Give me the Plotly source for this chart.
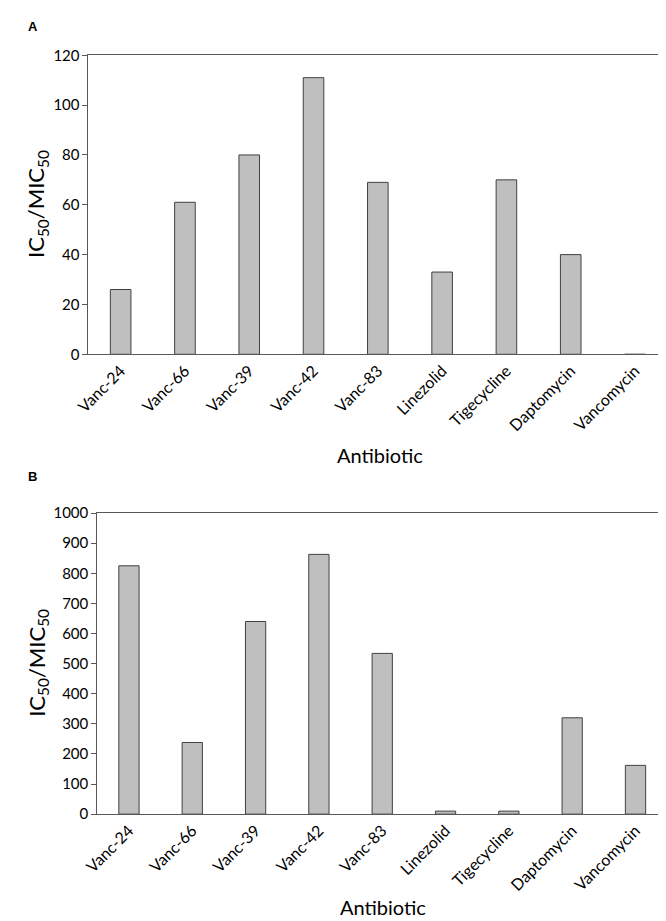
import plotly.graph_objects as go

categories = ["Vanc-24", "Vanc-66", "Vanc-39", "Vanc-42", "Vanc-83",
              "Linezolid", "Tigecycline", "Daptomycin", "Vancomycin"]
values_a = [26, 61, 80, 111, 69, 33, 70, 40, 0]
values_b = [825, 238, 640, 863, 534, 10, 10, 320, 162]

W, H = 666, 921
FONT = "Lato"
AXC = "#595959"

fig = go.Figure()
fig.add_trace(go.Bar(x=categories, y=values_a, xaxis="x", yaxis="y",
                     width=0.32, marker=dict(color="#BFBFBF", line=dict(color="#404040", width=1)),
                     showlegend=False))
fig.add_trace(go.Bar(x=categories, y=values_b, xaxis="x2", yaxis="y2",
                     width=0.32, marker=dict(color="#BFBFBF", line=dict(color="#404040", width=1)),
                     showlegend=False))

def px_x(p):
    return p / W

def px_y(p):
    return 1 - p / H

xcommon = dict(type="category", showline=True, linecolor=AXC, linewidth=1, mirror=True,
               ticks="", tickangle=-45, tickfont=dict(family=FONT, size=16, color="#000"),
               showgrid=False, zeroline=False, fixedrange=True)
ycommon = dict(showline=True, linecolor=AXC, linewidth=1, mirror=True,
               ticks="outside", ticklen=5, tickcolor=AXC,
               tickfont=dict(family=FONT, size=15, color="#000"),
               showgrid=False, zeroline=False)

fig.update_layout(
    width=W, height=H,
    margin=dict(l=0, r=0, t=0, b=0),
    plot_bgcolor="white", paper_bgcolor="white",
    xaxis=dict(domain=[px_x(67), px_x(659)], anchor="y", **xcommon),
    yaxis=dict(domain=[px_y(343), px_y(38)], anchor="x", range=[0, 120], dtick=20, **ycommon),
    xaxis2=dict(domain=[px_x(76), px_x(659)], anchor="y2", **xcommon),
    yaxis2=dict(domain=[px_y(812), px_y(505)], anchor="x2", range=[0, 1000], dtick=100, **ycommon),
)

ann = []
ann.append(dict(text="<b>A</b>", x=px_x(3), y=px_y(9), xref="paper", yref="paper",
                xanchor="left", yanchor="middle", showarrow=False,
                font=dict(family="Liberation Sans", size=13, color="#000")))
ann.append(dict(text="<b>B</b>", x=px_x(3), y=px_y(468), xref="paper", yref="paper",
                xanchor="left", yanchor="middle", showarrow=False,
                font=dict(family="Liberation Sans", size=13, color="#000")))
for yc in (px_y(190), px_y(658)):
    ann.append(dict(text="IC<sub>50</sub>/MIC<sub>50</sub>", x=px_x(15), y=yc, xref="paper", yref="paper",
                    xanchor="center", yanchor="middle", textangle=-90, showarrow=False,
                    font=dict(family=FONT, size=22, color="#000")))
ann.append(dict(text="Antibiotic", x=px_x(365), y=px_y(446), xref="paper", yref="paper",
                xanchor="center", yanchor="middle", showarrow=False,
                font=dict(family=FONT, size=20, color="#000")))
ann.append(dict(text="Antibiotic", x=px_x(368), y=0, xref="paper", yref="paper",
                xanchor="center", yanchor="bottom", showarrow=False,
                font=dict(family=FONT, size=20, color="#000")))
fig.update_layout(annotations=ann)

fig.write_html("out.html")
